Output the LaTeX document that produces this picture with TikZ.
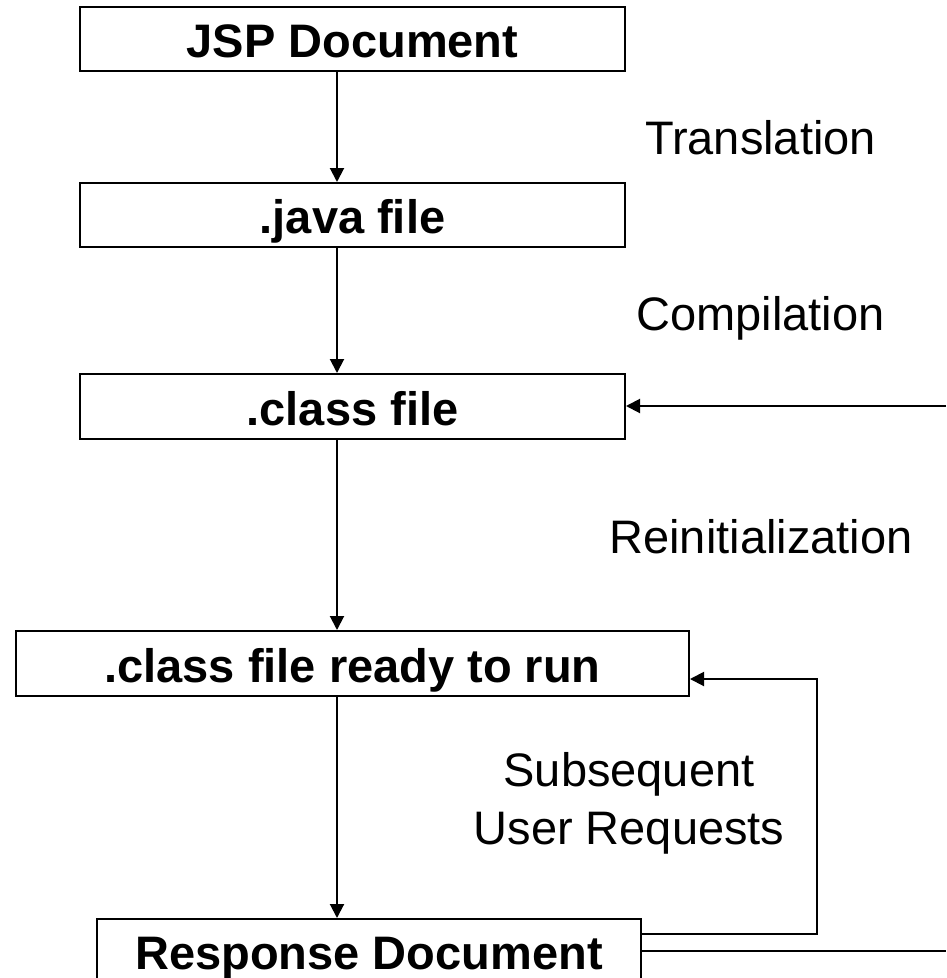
\documentclass[tikz,border=0pt]{standalone}
\usepackage{fontspec}
\setmainfont{Liberation Sans}
\usetikzlibrary{arrows.meta}
\begin{document}
\begin{tikzpicture}[x=1pt,y=-1pt,
  box/.style={draw, line width=2pt, inner sep=0pt,
    font=\fontsize{47}{58}\selectfont\bfseries,
    text height=37.5pt, text depth=0pt},
  lbl/.style={font=\fontsize{47}{58}\selectfont, inner sep=0pt},
  conn/.style={line width=2pt, -{Triangle[length=14pt,width=14pt]}},
  plain/.style={line width=2pt}
]
\useasboundingbox (0,0) rectangle (946,978);
\node[box, minimum width=545pt, minimum height=64pt] (jsp) at (352.5,39) {JSP Document};
\node[box, minimum width=545pt, minimum height=64pt] (java) at (352.5,215) {.java file};
\node[box, minimum width=545pt, minimum height=65pt] (class) at (352.5,406.5) {.class file};
\node[box, minimum width=673pt, minimum height=65pt] (ready) at (352.5,663.5) {.class file ready to run};
\node[box, minimum width=544pt, minimum height=64pt] (resp) at (369,951) {Response Document};

\node[lbl, anchor=base] (tr) at (760.5,154) {Translation};
\node[lbl, anchor=base] (co) at (760.5,330) {Compilation};
\node[lbl, anchor=base] (re) at (761,553) {Reinitialization};
\node[lbl, align=center] (sub) at (629,803) {Subsequent\\User Requests};

\coordinate (ax) at (337,0);
\draw[conn] (jsp.south -| ax) -- (java.north -| ax);
\draw[conn] (java.south -| ax) -- (class.north -| ax);
\draw[conn] (class.south -| ax) -- (ready.north -| ax);
\draw[conn] (ready.south -| ax) -- (resp.north -| ax);

\coordinate (rin) at (946,406);
\draw[conn] (rin) -- (class.east |- rin);

\coordinate (lpb) at (817,934);
\coordinate (lpt) at (817,679);
\draw[conn] (resp.east |- lpb) -- (lpb) -- (lpt) -- (ready.east |- lpt);

\coordinate (out) at (946,951);
\draw[plain] (resp.east |- out) -- (out);
\end{tikzpicture}
\end{document}
